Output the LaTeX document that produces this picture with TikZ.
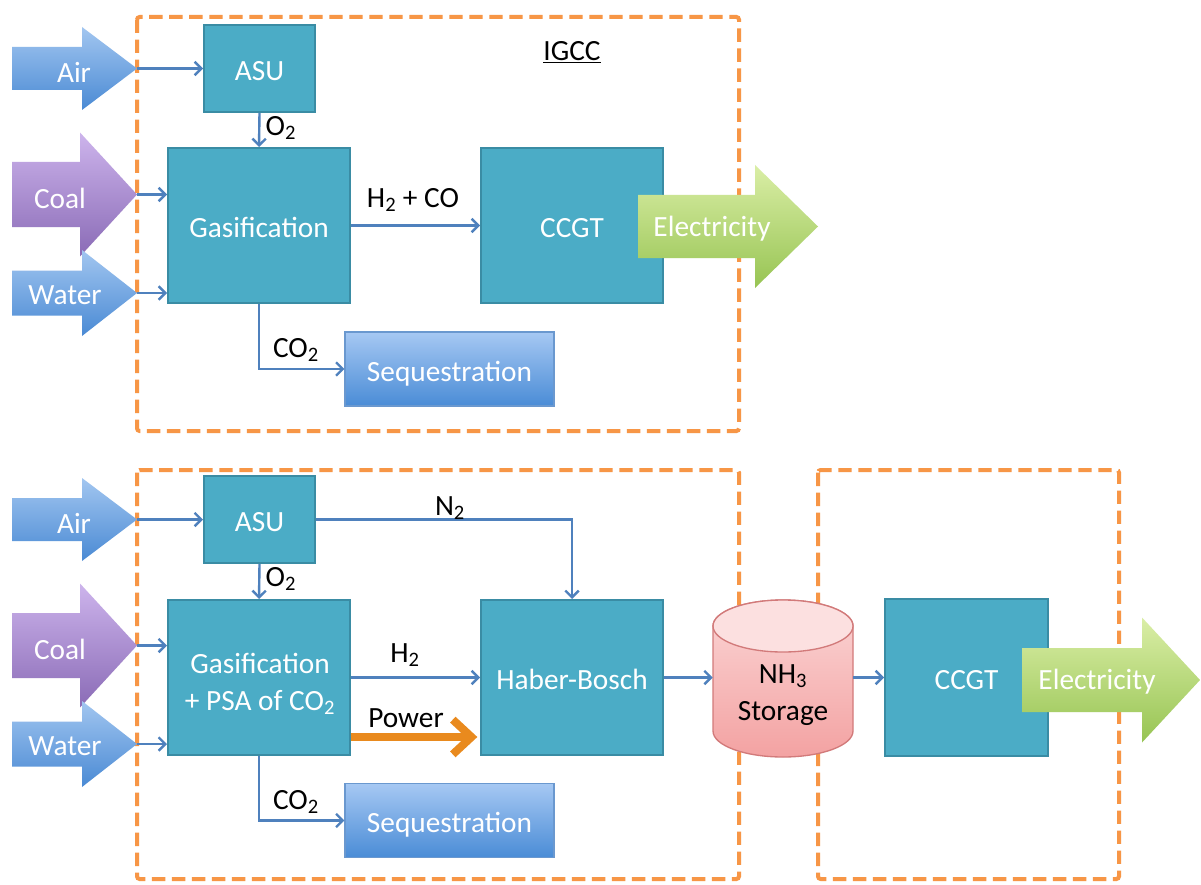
\documentclass[tikz,border=0pt]{standalone}
\usepackage{fontspec}
\setmainfont{Carlito}
\usetikzlibrary{arrows.meta,calc}
\definecolor{teal1}{HTML}{4BACC6}
\definecolor{tealb}{HTML}{3A8CA4}
\definecolor{conn}{HTML}{4F81BD}
\definecolor{dorange}{HTML}{F79646}
\definecolor{pwr}{HTML}{E98A1E}
\definecolor{blueT}{HTML}{A2C6F0}
\definecolor{blueB}{HTML}{4A8AD4}
\definecolor{purT}{HTML}{CDB4EC}
\definecolor{purB}{HTML}{8A6BB6}
\definecolor{grnT}{HTML}{DAEEA6}
\definecolor{grnB}{HTML}{97C453}
\definecolor{seqT}{HTML}{A6C8F3}
\definecolor{seqB}{HTML}{4A8CD6}
\definecolor{seqD}{HTML}{6A98CF}
\definecolor{cylT}{HTML}{FBD6D6}
\definecolor{cylB}{HTML}{F3A2A2}
\definecolor{cylTop}{HTML}{FCE0E0}
\definecolor{cylD}{HTML}{D27A7A}
\newcommand{\blkarrow}[8]{%
  \shade[top color=#1,bottom color=#2] (#3,#6-#7) -- (#4,#6-#7) -- (#4,#6-#8) -- (#5,#6) -- (#4,#6+#8) -- (#4,#6+#7) -- (#3,#6+#7) -- cycle;}
\begin{document}
\begin{tikzpicture}[x=0.75pt,y=-0.75pt,
  bigfont/.style={font=\fontsize{22}{26}\selectfont},
  proc/.style={draw=tealb, line width=1.5pt, fill=teal1, text=white, inner sep=0pt, bigfont, align=center,
     text height=18.5pt, text depth=0pt},
  seqbox/.style={draw=seqD, line width=0.8pt, top color=seqT, bottom color=seqB, text=white, inner sep=0pt, bigfont,
     minimum width=156.75pt, minimum height=55.5pt, text height=18.5pt, text depth=0pt},
  lbl/.style={text=black, inner sep=1pt, bigfont},
  wtxt/.style={text=white, inner sep=1pt, bigfont},
  flow/.style={draw=conn, line width=1.8pt, -{Straight Barb[length=5pt,width=10pt]}},
  dbox/.style={draw=dorange, line width=3pt, dash pattern=on 10pt off 5pt, rounded corners=2pt}]
\useasboundingbox (0,0) rectangle (1201,884);
\fill[white] (0,0) rectangle (1201,884);

% dashed frames
\draw[dbox] (137,17) rectangle (739,431);
\draw[dbox] (137,470) rectangle (739,879);
\draw[dbox] (818,470) rectangle (1119,879);

% ===== top (IGCC) =====
\node[lbl] (igcc) at (572,52) {\underline{IGCC}};
\node[proc, minimum width=83.25pt, minimum height=65.25pt] (asu1) at (259.5,68.5) {ASU};
\node[proc, minimum width=136.5pt, minimum height=116.25pt] (gas1) at (259,225.5) {Gasification};
\node[proc, minimum width=136.5pt, minimum height=116.25pt] (ccgt1) at (572,225.5) {CCGT};
\node[seqbox] (seq1) at (449.5,369) {Sequestration};

\coordinate (airtip1) at (137,68.5);
\coordinate (coaltip1) at (137,194.5);
\coordinate (watertip1) at (137,293);
\blkarrow{blueT}{blueB}{12}{82}{137}{68.5}{21.5}{41.5}
\blkarrow{purT}{purB}{12}{80}{137}{194.5}{32.5}{62}
\blkarrow{blueT}{blueB}{12}{82}{137}{293}{22.5}{43}
\node[wtxt] (airl1) at (74,72) {Air};
\node[wtxt] (coall1) at (60,198) {Coal};
\node[wtxt] (waterl1) at (65,295) {Water};

\draw[flow] (airtip1) -- (asu1.west |- airtip1);
\draw[flow] (coaltip1) -- (gas1.west |- coaltip1);
\draw[flow] (watertip1) -- (gas1.west |- watertip1);
\draw[flow] (asu1.south) -- (gas1.north);
\node[lbl, anchor=west] (o2l1) at (264,128) {O\textsubscript{2}};
\draw[flow] (gas1.east) -- (ccgt1.west);
\node[lbl] (h2col) at (413,200) {H\textsubscript{2} + CO};
\draw[flow] (gas1.south) |- (seq1.west);
\node[lbl] (co2l1) at (296,350) {CO\textsubscript{2}};

\blkarrow{grnT}{grnB}{638}{755}{818}{226.5}{31.5}{61.5}
\node[wtxt] (elec1) at (712,229) {Electricity};

% ===== bottom =====
\node[proc, minimum width=83.25pt, minimum height=65.25pt] (asu2) at (259.5,519.5) {ASU};
\node[proc, minimum width=136.5pt, minimum height=116.25pt] (gas2) at (259,677.5) {};
\node[wtxt, align=center, font=\fontsize{22}{27.5}\selectfont] (gas2t) at (260,684) {Gasification\\+ PSA of CO\textsubscript{2}};
\node[proc, minimum width=136.5pt, minimum height=116.25pt] (hb) at (572,677.5) {Haber-Bosch};
\node[seqbox] (seq2) at (449.5,820.5) {Sequestration};
\node[proc, minimum width=122.25pt, minimum height=117.75pt] (ccgt2) at (966.5,677.5) {CCGT};

\coordinate (airtip2) at (137,519.5);
\coordinate (coaltip2) at (137,645.5);
\coordinate (watertip2) at (137,744);
\blkarrow{blueT}{blueB}{12}{82}{137}{519.5}{21.5}{41.5}
\blkarrow{purT}{purB}{12}{80}{137}{645.5}{32.5}{62}
\blkarrow{blueT}{blueB}{12}{82}{137}{744}{22.5}{43}
\node[wtxt] (airl2) at (74,523) {Air};
\node[wtxt] (coall2) at (60,649) {Coal};
\node[wtxt] (waterl2) at (65,746) {Water};

\draw[flow] (airtip2) -- (asu2.west |- airtip2);
\draw[flow] (coaltip2) -- (gas2.west |- coaltip2);
\draw[flow] (watertip2) -- (gas2.west |- watertip2);
\draw[flow] (asu2.south) -- (gas2.north);
\node[lbl, anchor=west] (o2l2) at (264,579) {O\textsubscript{2}};
\draw[flow] (asu2.east) -| (hb.north);
\node[lbl] (n2l) at (450,508) {N\textsubscript{2}};
\draw[flow] (gas2.east) -- (hb.west);
\node[lbl] (h2l) at (405,655) {H\textsubscript{2}};
\coordinate (pw) at (0,737);
\draw[pwr, line width=6pt, -{Straight Barb[length=14pt,width=26pt]}] (gas2.east |- pw) -- ([xshift=-2pt]hb.west |- pw);
\node[lbl] (powl) at (406,718) {Power};
\draw[flow] (gas2.south) |- (seq2.west);
\node[lbl] (co2l2) at (296,802) {CO\textsubscript{2}};

% cylinder
\node[minimum width=105pt, minimum height=117.75pt, inner sep=0pt] (nh3) at (783,678.5) {};
\shade[top color=cylT, bottom color=cylB, draw=cylD, line width=1pt]
  (713,626) -- (713,731) arc (180:0:70 and 26) -- (853,626) arc (0:-180:70 and 26) -- cycle;
\draw[fill=cylTop, draw=cylD, line width=1pt] (783,626) ellipse (70 and 26);
\node[lbl, align=center, font=\fontsize{22}{27.5}\selectfont] (nh3t) at (783,695) {NH\textsubscript{3}\\Storage};
\draw[flow] (hb.east) -- (nh3.west |- hb.east);
\draw[flow] (nh3.east |- ccgt2.west) -- (ccgt2.west);

\blkarrow{grnT}{grnB}{1022}{1142}{1200}{680}{32}{62.5}
\node[wtxt] (elec2) at (1097,682) {Electricity};
\end{tikzpicture}
\end{document}
